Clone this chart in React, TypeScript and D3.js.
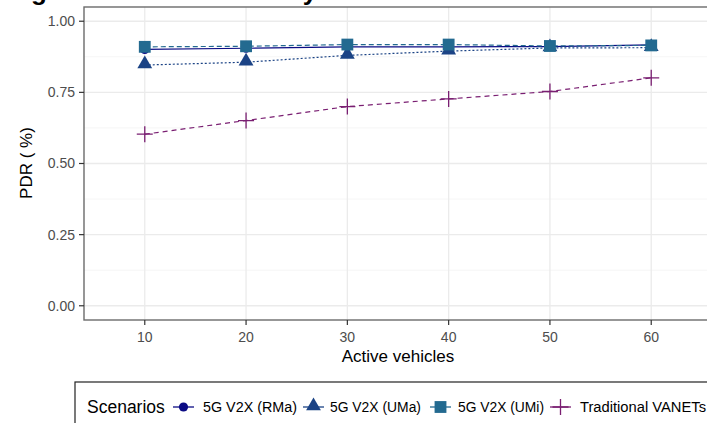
import React from 'react';
import * as d3 from 'd3';

const vehicles = ['10', '20', '30', '40', '50', '60'];
const rmaPdr = [0.901, 0.905, 0.91, 0.91, 0.911, 0.917];
const umaPdr = [0.846, 0.856, 0.88, 0.895, 0.906, 0.907];
const umiPdr = [0.91, 0.912, 0.918, 0.918, 0.913, 0.915];
const vanetPdr = [0.603, 0.651, 0.7, 0.727, 0.753, 0.801];
const yTicks = [0, 0.25, 0.5, 0.75, 1];
const yMinor = [0.125, 0.375, 0.625, 0.875];

const series = [
    {name: '5G V2X (RMa)', values: rmaPdr, color: '#0b0b84', dash: null, shape: 'circle'},
    {name: '5G V2X (UMa)', values: umaPdr, color: '#1b4385', dash: '2,2', shape: 'triangle'},
    {name: '5G V2X (UMi)', values: umiPdr, color: '#236a90', dash: '5,3', shape: 'square'},
    {name: 'Traditional VANETs', values: vanetPdr, color: '#7a1f72', dash: '5,4', shape: 'plus'},
];

const font = 'Liberation Sans, Arial, sans-serif';

// panel box
const left = 84, right = 712, top = 7, bottom = 320;

const x = d3.scalePoint().domain(vehicles).range([left, right]).padding(0.6);
const y = d3.scaleLinear().domain([-0.05, 1.05]).range([bottom, top]);

const Marker = ({shape, color, cx, cy}) => {
    if (shape === 'plus') {
        return <path d="M-8,0H8M0,-8V8" transform={`translate(${cx},${cy})`} stroke={color} strokeWidth={1.3} fill="none"/>;
    }
    if (shape === 'circle') {
        return <circle cx={cx} cy={cy} r={4.6} fill={color}/>;
    }
    const sym = shape === 'triangle' ? d3.symbolTriangle : d3.symbolSquare;
    const size = shape === 'triangle' ? 95 : 140;
    return <path d={d3.symbol(sym, size)()} transform={`translate(${cx},${shape === 'triangle' ? cy - 1 : cy})`} fill={color}/>;
};

// legend item positions: key start, label start
const legendItems = [
    {key: 173, label: 203, width: 94},
    {key: 303, label: 330, width: 91},
    {key: 430, label: 458, width: 86},
    {key: 550, label: 580, width: 126},
];

export default function App() {
    const line = d3.line().x((d, i) => x(vehicles[i])).y(d => y(d));

    return (
        <svg width={707} height={423} style={{position: 'absolute', left: 0, top: 0, background: '#fff'}}>
            {/* title, mostly cut off */}
            <text x={8} y={0} fontFamily={font} fontWeight="bold" fontSize={26}>Figure 4: Packet Delivery Ratio</text>

            {/* grid */}
            {yMinor.map(t => (
                <line key={'ym' + t} x1={left} x2={right} y1={y(t)} y2={y(t)} stroke="#f3f3f3" strokeWidth={0.8}/>
            ))}
            {yTicks.map(t => (
                <line key={'yg' + t} x1={left} x2={right} y1={y(t)} y2={y(t)} stroke="#ebebeb" strokeWidth={1.3}/>
            ))}
            {vehicles.map(v => (
                <line key={'xg' + v} x1={x(v)} x2={x(v)} y1={top} y2={bottom} stroke="#ebebeb" strokeWidth={1.3}/>
            ))}

            {/* series lines */}
            {series.map(s => (
                <path key={'l' + s.name} d={line(s.values)} fill="none" stroke={s.color} strokeWidth={1.2}
                      strokeDasharray={s.dash || undefined}/>
            ))}
            {series.map(s => s.values.map((v, i) => (
                <Marker key={s.name + i} shape={s.shape} color={s.color} cx={x(vehicles[i])} cy={y(v)}/>
            )))}

            {/* panel border */}
            <rect x={left} y={top} width={right - left} height={bottom - top} fill="none" stroke="#6b6b6b" strokeWidth={1.4}/>

            {/* y axis */}
            {yTicks.map(t => (
                <g key={'yt' + t}>
                    <line x1={left - 5} x2={left} y1={y(t)} y2={y(t)} stroke="#333" strokeWidth={1.2}/>
                    <text x={left - 9} y={y(t)} dy="0.35em" textAnchor="end" fontFamily={font} fontSize={14}
                          fill="#4d4d4d">{d3.format('.2f')(t)}</text>
                </g>
            ))}
            {/* x axis */}
            {vehicles.map(v => (
                <g key={'xt' + v}>
                    <line x1={x(v)} x2={x(v)} y1={bottom} y2={bottom + 5} stroke="#333" strokeWidth={1.2}/>
                    <text x={x(v)} y={342} textAnchor="middle" fontFamily={font} fontSize={14} fill="#4d4d4d">{v}</text>
                </g>
            ))}

            <text x={398} y={362} textAnchor="middle" fontFamily={font} fontSize={17}>Active vehicles</text>
            <text transform="translate(32,163) rotate(-90)" textAnchor="middle" fontFamily={font} fontSize={17}>PDR ( %)</text>

            {/* legend */}
            <rect x={75} y={382} width={700} height={60} fill="#fff" stroke="#222" strokeWidth={1.2}/>
            <text x={87} y={413} fontFamily={font} fontSize={17.5}>Scenarios</text>
            {series.map((s, i) => {
                const it = legendItems[i];
                const cy = 407;
                return (
                    <g key={'lg' + s.name}>
                        <line x1={it.key} x2={it.key + 21} y1={cy} y2={cy} stroke={s.color} strokeWidth={1.3}/>
                        <Marker shape={s.shape} color={s.color} cx={it.key + 10.5} cy={cy}/>
                        <text x={it.label} y={412} fontFamily={font} fontSize={14} textLength={it.width}
                              lengthAdjust="spacingAndGlyphs">{s.name}</text>
                    </g>
                );
            })}
        </svg>
    );
}
